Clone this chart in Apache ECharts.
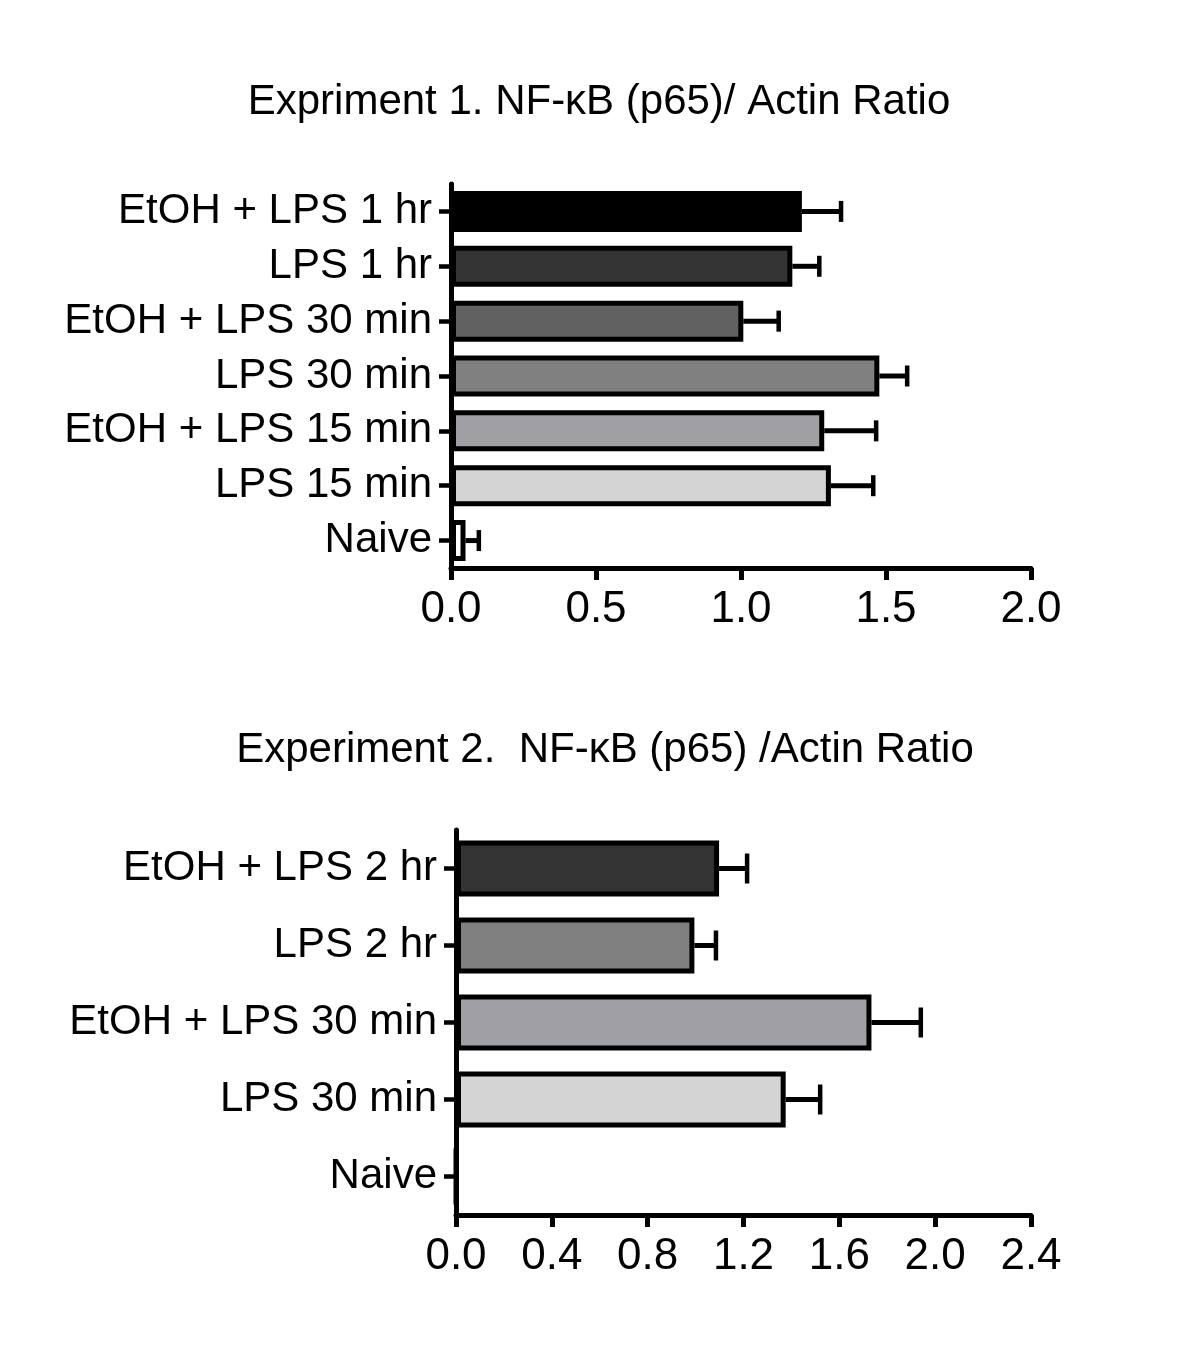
<!DOCTYPE html>
<html><head><meta charset="utf-8">
<script src="https://cdn.jsdelivr.net/npm/echarts@6/dist/echarts.min.js"></script>
<style>html,body{margin:0;padding:0;background:#fff}#c{width:1200px;height:1346px}</style>
</head><body><div id="c"></div>
<script>
const title1 = 'Expriment 1. NF-\u03BAB (p65)/ Actin Ratio';
const title2 = 'Experiment 2.  NF-\u03BAB (p65) /Actin Ratio';
const cats1 = ['EtOH + LPS 1 hr','LPS 1 hr','EtOH + LPS 30 min','LPS 30 min','EtOH + LPS 15 min','LPS 15 min','Naive'];
const vals1 = [1.21,1.177,1.008,1.477,1.287,1.31,0.05];
const errTop1 = [1.345,1.27,1.13,1.573,1.466,1.456,0.096];
const colors1 = ['#000000','#333333','#616161','#808080','#a0a0a4','#d4d4d4','#ffffff'];
const cats2 = ['EtOH + LPS 2 hr','LPS 2 hr','EtOH + LPS 30 min','LPS 30 min','Naive'];
const vals2 = [1.098,0.995,1.734,1.376,0];
const errTop2 = [1.215,1.085,1.94,1.52,null];
const colors2 = ['#333333','#808080','#a0a0a4','#d4d4d4','#ffffff'];
const ticks1 = {min:0,max:2,interval:0.5};
const ticks2 = {min:0,max:2.4,interval:0.4};

const FONT = "'Liberation Sans', Arial, Helvetica, sans-serif";
const chart = echarts.init(document.getElementById('c'), null, {renderer:'canvas'});

function barData(vals, colors){
  return vals.map((v,i)=>({value:v, itemStyle:{color:colors[i]}}));
}
function errData(vals, errs){
  const out=[];
  vals.forEach((v,i)=>{ if(errs[i]!=null) out.push([i, v, errs[i]]); });
  return out;
}
function errRender(capHalf){
  return function(params, api){
    const cat = api.value(0), v = api.value(1), e = api.value(2);
    const p0 = api.coord([v, cat]);
    const p1 = api.coord([e, cat]);
    return {type:'group', children:[
      {type:'line', shape:{x1:p0[0], y1:p0[1], x2:p1[0], y2:p1[1]}, style:{stroke:'#000', lineWidth:5}},
      {type:'line', shape:{x1:p1[0], y1:p1[1]-capHalf, x2:p1[0], y2:p1[1]+capHalf}, style:{stroke:'#000', lineWidth:4.5}}
    ]};
  };
}
function xAxis(idx, t){
  return {type:'value', gridIndex:idx, min:t.min, max:t.max, interval:t.interval,
    axisLine:{show:true, lineStyle:{color:'#000', width:5}},
    axisTick:{show:true, length:12, lineStyle:{color:'#000', width:5}},
    axisLabel:{color:'#000', fontSize:44, fontFamily:FONT, margin:20, formatter:v=>v.toFixed(1)},
    splitLine:{show:false}};
}
function yAxis(idx, cats){
  return {type:'category', gridIndex:idx, data:cats, inverse:true,
    axisLine:{show:true, lineStyle:{color:'#000', width:5}},
    axisTick:{show:true, alignWithLabel:true, length:12, lineStyle:{color:'#000', width:4.5}},
    axisLabel:{color:'#000', fontSize:42, fontFamily:FONT, margin:19}};
}
chart.setOption({
  animation:false,
  backgroundColor:'#fff',
  title:[
    {text:title1, left:599, top:81, textAlign:'center', padding:0, textStyle:{fontSize:42, fontWeight:'normal', color:'#000', fontFamily:FONT}},
    {text:title2, left:605, top:729, textAlign:'center', padding:0, textStyle:{fontSize:42, fontWeight:'normal', color:'#000', fontFamily:FONT}}
  ],
  grid:[
    {left:451, width:580, top:184, height:384, containLabel:false},
    {left:456, width:575, top:830, height:385, containLabel:false}
  ],
  xAxis:[xAxis(0,ticks1), xAxis(1,ticks2)],
  yAxis:[yAxis(0,cats1), yAxis(1,cats2)],
  series:[
    {type:'bar', xAxisIndex:0, yAxisIndex:0, data:barData(vals1,colors1), barWidth:41,
      itemStyle:{borderColor:'#000', borderWidth:5}, z:2},
    {type:'custom', xAxisIndex:0, yAxisIndex:0, data:errData(vals1,errTop1), renderItem:errRender(10.5), encode:{x:[1,2], y:0}, z:3},
    {type:'bar', xAxisIndex:1, yAxisIndex:1, data:barData(vals2,colors2), barWidth:56,
      itemStyle:{borderColor:'#000', borderWidth:5}, z:2},
    {type:'custom', xAxisIndex:1, yAxisIndex:1, data:errData(vals2,errTop2), renderItem:errRender(15), encode:{x:[1,2], y:0}, z:3}
  ]
});
</script></body></html>
